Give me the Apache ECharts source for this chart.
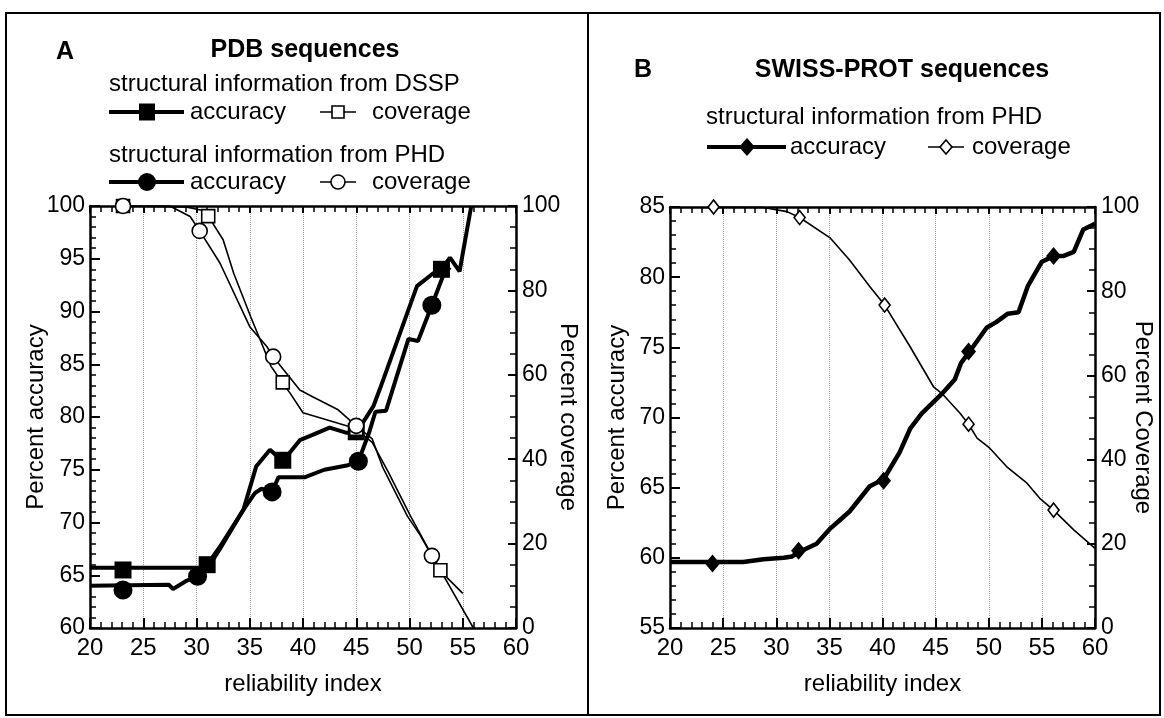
<!DOCTYPE html>
<html>
<head>
<meta charset="utf-8">
<script src="https://cdn.jsdelivr.net/npm/echarts@6/dist/echarts.min.js"></script>
<style>
  html, body { margin: 0; padding: 0; background: #fff; }
  #chart { width: 1164px; height: 718px; }
</style>
</head>
<body>
<div id="chart"></div>
<script>
  // ---- panel A: PDB sequences ([reliability index, percent]) ----
  var pdbDsspAccuracy = [
    [20, 65.7], [30.3, 65.7], [31, 66], [32.2, 67.7], [34.4, 71.2], [35.6, 75.3], [36.9, 76.9],
    [38.1, 75.8], [39.7, 77.8], [40.9, 78.3], [42.5, 79.0], [44.1, 78.5], [45, 78.5], [46.6, 81],
    [47.2, 82.6], [50.7, 92.4], [52.2, 93.6], [53, 94], [53.8, 95.1], [54.7, 93.8], [55.8, 100]
  ]
  var pdbPhdAccuracy = [
    [20, 64.0], [27.4, 64.1], [27.8, 63.7], [29.1, 64.5], [30.1, 64.9], [31, 65.6], [32.2, 67.5],
    [34.4, 71.2], [35.5, 72.8], [36.1, 73.2], [37.1, 72.9], [37.7, 74.3], [40.2, 74.3], [42, 75.0],
    [44.1, 75.4], [45.2, 75.8], [46.2, 78.5], [46.8, 80.5], [47.8, 80.6], [49.9, 87.4], [50.8, 87.2],
    [52.1, 90.6], [53.2, 93.5], [53.8, 94.2]
  ]
  var pdbDsspCoverage = [
    [23, 100], [29, 99.8], [30.5, 99], [31.1, 97.6], [32.5, 92], [33.5, 84], [35.1, 73.7], [37, 62],
    [38.1, 58], [38.8, 55.6], [40, 51], [44.4, 47.7], [45, 47], [46.5, 44], [48, 37], [50, 27],
    [51.5, 20], [52.9, 13.7], [56, 0]
  ]
  var pdbPhdCoverage = [
    [23, 100], [27.5, 100], [29.4, 97.5], [30.3, 94.1], [32.2, 86.5], [35, 71.4], [36.6, 66.7],
    [37.2, 64.3], [39.7, 56.4], [40.9, 54.8], [43.3, 51.7], [45, 47.9], [46.5, 44.8], [47.5, 38],
    [49.8, 26.5], [51, 22], [52.1, 17.1], [53.5, 12], [55, 8.2]
  ]
  // marked points
  var pdbDsspAccMarks = [[23.1, 65.5], [31.0, 66.0], [38.1, 75.9], [45.0, 78.6], [53.0, 94.0]]
  var pdbPhdAccMarks = [[23.1, 63.6], [30.1, 64.9], [37.1, 72.9], [45.2, 75.8], [52.1, 90.6]]
  var pdbDsspCovMarks = [[23.1, 100], [31.1, 97.6], [38.1, 58.2], [45.0, 47.2], [52.9, 13.7]]
  var pdbPhdCovMarks = [[23.1, 100], [30.3, 94.1], [37.2, 64.3], [45.0, 47.9], [52.1, 17.1]]

  // ---- panel B: SWISS-PROT sequences ----
  var swissAccuracy = [
    [20, 59.7], [26.9, 59.7], [28.8, 59.9], [30.7, 60.0], [31.5, 60.1], [32.1, 60.4], [33.8, 61.0],
    [35.1, 62.1], [36.0, 62.7], [36.9, 63.3], [38.8, 65.1], [40.1, 65.6], [41.6, 67.5], [42.6, 69.2],
    [43.7, 70.3], [45.6, 71.7], [46.8, 72.7], [47.4, 73.9], [48.1, 74.6], [49.8, 76.4], [50.7, 76.8],
    [51.8, 77.4], [52.8, 77.5], [53.7, 79.4], [55.0, 81.1], [56.1, 81.5], [57.0, 81.5], [58.0, 81.8],
    [58.9, 83.4], [60, 83.8]
  ]
  var swissCoverage = [
    [24.1, 100], [28.8, 99.9], [31.0, 98.9], [32.2, 97.5], [35.1, 92.6], [36.9, 87.4], [38.8, 81.1],
    [40.2, 76.7], [42.6, 66.8], [44.8, 57.3], [45.6, 55.7], [47.3, 51.0], [48.1, 48.4], [48.9, 45.1],
    [50.1, 42.7], [51.7, 38.3], [53.6, 34.4], [54.8, 30.8], [56.1, 28.0], [58.0, 23.3], [60, 18.9]
  ]
  var swissAccMarks = [[24.0, 59.6], [32.1, 60.5], [40.1, 65.5], [48.1, 74.7], [56.1, 81.5]]
  var swissCovMarks = [[24.1, 100], [32.2, 97.5], [40.2, 76.7], [48.1, 48.4], [56.1, 28.0]]

  var FONT = 'Liberation Sans, Arial, sans-serif'

  function xAxisBottom(gridIndex) {
    return {
      gridIndex: gridIndex, type: 'value', position: 'bottom', min: 20, max: 60, interval: 5,
      name: 'reliability index', nameLocation: 'middle', nameGap: 44,
      nameTextStyle: { fontFamily: FONT, fontSize: 24, color: '#000' },
      axisLine: { lineStyle: { color: '#000', width: 2.5 } },
      axisTick: { inside: true, length: 10, lineStyle: { color: '#000', width: 2 } },
      minorTick: { show: true, splitNumber: 5, length: 6, lineStyle: { color: '#000', width: 1.5 } },
      axisLabel: { fontFamily: FONT, fontSize: 24, color: '#000', margin: 8 },
      splitLine: { show: true, lineStyle: { type: 'dotted', color: '#999', width: 1 } }
    }
  }
  function xAxisTop(gridIndex) {
    return {
      gridIndex: gridIndex, type: 'value', position: 'top', min: 20, max: 60, interval: 5,
      axisLine: { lineStyle: { color: '#000', width: 2.5 } },
      axisTick: { inside: true, length: 7, lineStyle: { color: '#000', width: 2 } },
      minorTick: { show: true, splitNumber: 5, length: 6, lineStyle: { color: '#000', width: 1.5 } },
      axisLabel: { show: false },
      splitLine: { show: false }
    }
  }
  function yAxisAcc(gridIndex, min, max, nameGap) {
    return {
      gridIndex: gridIndex, type: 'value', position: 'left', min: min, max: max, interval: 5,
      name: 'Percent accuracy', nameLocation: 'middle', nameGap: nameGap, nameRotate: 90,
      nameMoveOverlap: false,
      nameTextStyle: { fontFamily: FONT, fontSize: 24, color: '#000' },
      axisLine: { onZero: false, lineStyle: { color: '#000', width: 2.5 } },
      axisTick: { inside: true, length: 10, lineStyle: { color: '#000', width: 2 } },
      minorTick: { show: true, splitNumber: 5, length: 6, lineStyle: { color: '#000', width: 1.5 } },
      axisLabel: { fontFamily: FONT, fontSize: 23, color: '#000', margin: 5 },
      splitLine: { show: false }
    }
  }
  function yAxisCov(gridIndex, name, nameGap) {
    return {
      gridIndex: gridIndex, type: 'value', position: 'right', min: 0, max: 100, interval: 20,
      name: name, nameLocation: 'middle', nameGap: nameGap, nameRotate: -90,
      nameMoveOverlap: false,
      nameTextStyle: { fontFamily: FONT, fontSize: 24, color: '#000' },
      axisLine: { onZero: false, lineStyle: { color: '#000', width: 2.5 } },
      axisTick: { inside: true, length: 8, lineStyle: { color: '#000', width: 2 } },
      minorTick: { show: true, splitNumber: 4, length: 6, lineStyle: { color: '#000', width: 1.5 } },
      axisLabel: { fontFamily: FONT, fontSize: 23, color: '#000', margin: 6 },
      splitLine: { show: false }
    }
  }

  function lineSeries(data, xi, yi, width) {
    return {
      type: 'line', xAxisIndex: xi, yAxisIndex: yi, data: data, symbol: 'none',
      lineStyle: { color: '#000', width: width }, z: 3, animation: false
    }
  }
  function markSeries(data, xi, yi, symbol, size, filled, z) {
    return {
      type: 'scatter', xAxisIndex: xi, yAxisIndex: yi, data: data, symbol: symbol, symbolSize: size,
      itemStyle: filled
        ? { color: '#000', opacity: 1 }
        : { color: '#fff', borderColor: '#000', borderWidth: 1.6, opacity: 1 },
      z: z, animation: false
    }
  }

  // legend pieces (drawn as plain graphic shapes)
  function sym(kind, cx, cy, w, h, filled) {
    var style = filled ? { fill: '#000' } : { fill: '#fff', stroke: '#000', lineWidth: 1.6 }
    if (kind === 'rect') return { type: 'rect', shape: { x: cx - w / 2, y: cy - h / 2, width: w, height: h }, style: style }
    if (kind === 'circle') return { type: 'circle', shape: { cx: cx, cy: cy, r: w / 2 }, style: style }
    return { type: 'polygon', shape: { points: [[cx, cy - h / 2], [cx + w / 2, cy], [cx, cy + h / 2], [cx - w / 2, cy]] }, style: style }
  }
  function seg(x1, x2, y, w) {
    return { type: 'line', shape: { x1: x1, y1: y, x2: x2, y2: y }, style: { stroke: '#000', lineWidth: w } }
  }
  function txt(s, x, y, size, bold, align) {
    return {
      type: 'text', x: x, y: y,
      style: { text: s, fill: '#000', font: (bold ? 'bold ' : '') + size + 'px ' + FONT, align: align || 'left', verticalAlign: 'middle' }
    }
  }

  var graphics = [
    { type: 'rect', shape: { x: 6, y: 13, width: 1154, height: 702 }, style: { fill: 'none', stroke: '#000', lineWidth: 2 } },
    { type: 'line', shape: { x1: 588, y1: 13, x2: 588, y2: 715 }, style: { stroke: '#000', lineWidth: 2 } },
    // panel A
    txt('A', 56, 52, 25, true),
    txt('PDB sequences', 305, 50, 25, true, 'center'),
    txt('structural information from DSSP', 109, 84, 24),
    seg(109, 184, 112, 4), sym('rect', 147, 112, 16, 17, true), txt('accuracy', 190, 112, 24),
    seg(320, 356, 112, 1.5), sym('rect', 338, 112, 12, 12, false), txt('coverage', 372, 112, 24),
    txt('structural information from PHD', 109, 155, 24),
    seg(109, 184, 182, 4), sym('circle', 147, 182, 18, 18, true), txt('accuracy', 190, 182, 24),
    seg(320, 356, 182, 1.5), sym('circle', 338, 182, 14, 14, false), txt('coverage', 372, 182, 24),
    // panel B
    txt('B', 634, 70, 25, true),
    txt('SWISS-PROT sequences', 902, 70, 25, true, 'center'),
    txt('structural information from PHD', 706, 117, 24),
    seg(707, 786, 147, 4), sym('diamond', 747, 147, 16, 18, true), txt('accuracy', 790, 147, 24),
    seg(928, 964, 147, 1.5), sym('diamond', 946, 147, 12, 14, false), txt('coverage', 972, 147, 24)
  ]

  var chart = echarts.init(document.getElementById('chart'))
  chart.setOption({
    backgroundColor: '#fff',
    animation: false,
    grid: [
      { left: 90, right: 648, top: 206, bottom: 90 },
      { left: 670, right: 69, top: 207, bottom: 90 }
    ],
    xAxis: [xAxisBottom(0), xAxisTop(0), xAxisBottom(1), xAxisTop(1)],
    yAxis: [
      yAxisAcc(0, 60, 100, 42), yAxisCov(0, 'Percent coverage', 40),
      yAxisAcc(1, 55, 85, 41), yAxisCov(1, 'Percent Coverage', 36)
    ],
    series: [
      lineSeries(pdbDsspCoverage, 0, 1, 1.6),
      lineSeries(pdbPhdCoverage, 0, 1, 1.6),
      lineSeries(pdbDsspAccuracy, 0, 0, 4),
      lineSeries(pdbPhdAccuracy, 0, 0, 4),
      markSeries(pdbDsspAccMarks, 0, 0, 'rect', 17, true, 5),
      markSeries(pdbPhdAccMarks, 0, 0, 'circle', 19, true, 5),
      markSeries(pdbDsspCovMarks, 0, 1, 'rect', 13, false, 6),
      markSeries(pdbPhdCovMarks, 0, 1, 'circle', 15, false, 7),

      lineSeries(swissCoverage, 2, 3, 1.6),
      lineSeries(swissAccuracy, 2, 2, 4.5),
      markSeries(swissAccMarks, 2, 2, 'diamond', [15, 18], true, 5),
      markSeries(swissCovMarks, 2, 3, 'diamond', [11, 14], false, 6)
    ],
    graphic: graphics
  })
</script>
</body>
</html>
